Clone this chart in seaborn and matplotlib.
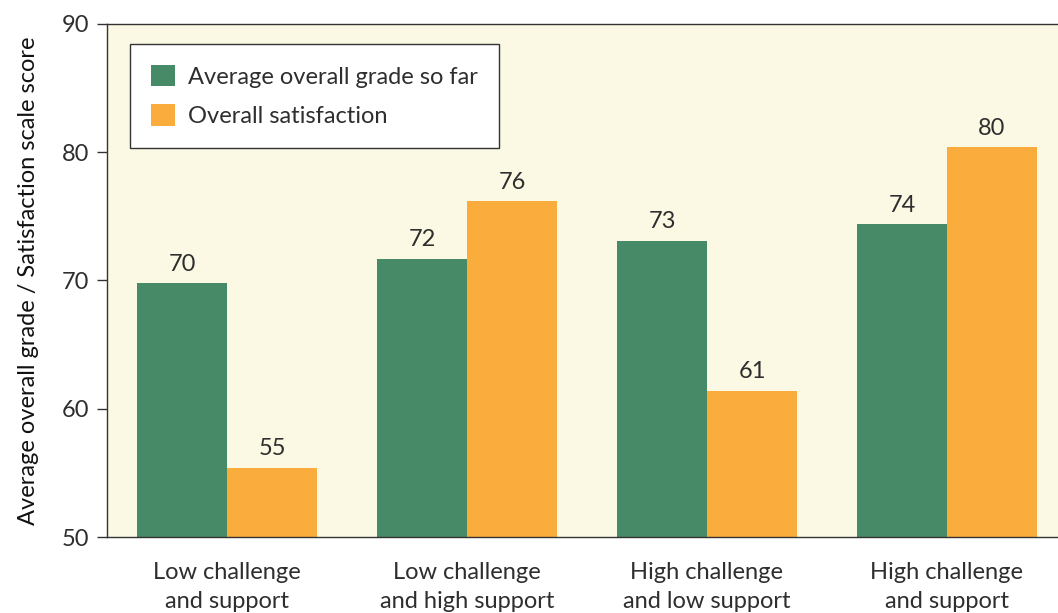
import matplotlib
matplotlib.use("Agg")
import matplotlib.pyplot as plt
import seaborn as sns
import pandas as pd
import numpy as np

categories = ["Low challenge\nand support", "Low challenge\nand high support",
              "High challenge\nand low support", "High challenge\nand support"]
series_names = ["Average overall grade so far", "Overall satisfaction"]
grade = [69.8, 71.7, 73.1, 74.4]
satisfaction = [55.4, 76.2, 61.4, 80.4]
grade_labels = ["70", "72", "73", "74"]
satisfaction_labels = ["55", "76", "61", "80"]
yticks = [50, 60, 70, 80, 90]

sns.set_theme(style="white")
plt.rcParams['font.family'] = ['Lato', 'DejaVu Sans']

df = pd.DataFrame({
    "category": categories * 2,
    "series": [series_names[0]] * 4 + [series_names[1]] * 4,
    "value": grade + satisfaction,
})

fig = plt.figure(figsize=(10.58, 6.13), dpi=100)
ax = fig.add_axes([107/1058, (613-537)/613, 960/1058, 513/613])
ax.set_facecolor("#FBF8E3")

palette = {series_names[0]: "#468A67", series_names[1]: "#FAAD3C"}
sns.barplot(data=df, x="category", y="value", hue="series", palette=palette,
            width=0.75, gap=0, saturation=1, ax=ax, edgecolor="none", linewidth=0,
            order=categories, hue_order=series_names)

txt = "#2e2e2e"
ax.set_ylim(50, 90)
ax.set_xlim(-0.5, 3.5)
ax.set_yticks(yticks)
ax.set_yticklabels([str(t) for t in yticks], fontsize=17, color=txt)
ax.set_xticks(range(4))
ax.set_xticklabels(categories, fontsize=17, color=txt, linespacing=1.45)
ax.set_xticks(np.arange(-0.5, 4.0, 1.0), minor=True)
ax.tick_params(axis="x", which="major", length=0, pad=18)
ax.tick_params(axis="x", which="minor", length=9, width=1, color="#333333", direction="out")
ax.tick_params(axis="y", which="major", length=7, width=1, color="#333333", direction="out", pad=6, left=True)
ax.set_xlabel("")
ax.set_ylabel("Average overall grade / Satisfaction scale score", fontsize=17,
              color="#111111", labelpad=16)

for sp in ["left", "bottom", "top"]:
    ax.spines[sp].set_visible(True)
    ax.spines[sp].set_color("#333333")
    ax.spines[sp].set_linewidth(1)
ax.spines["right"].set_visible(False)

for container, labels in zip(ax.containers, [grade_labels, satisfaction_labels]):
    ax.bar_label(container, labels=labels, padding=6, fontsize=17, color=txt)

leg = ax.legend(loc="upper left", bbox_to_anchor=(23/960, 1 - 20/513), fontsize=17,
                frameon=True, fancybox=False, edgecolor="#333333", facecolor="white",
                framealpha=1, borderpad=0.9, handlelength=1.0, handleheight=1.0,
                handletextpad=0.55, labelspacing=0.7, borderaxespad=0)
leg.get_frame().set_linewidth(1)
for t in leg.get_texts():
    t.set_color(txt)

fig.savefig("out.png", dpi=100)
